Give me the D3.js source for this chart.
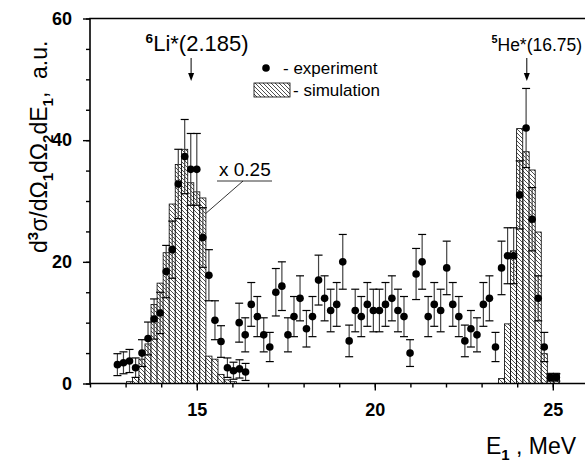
<!DOCTYPE html>
<html><head><meta charset="utf-8">
<script src="https://cdn.jsdelivr.net/npm/d3@7"></script>
<style>body{margin:0;overflow:hidden;background:#fff} svg{display:block}</style>
</head><body>
<script>
// ---- data ----
// left peak (6Li*), experiment scaled x0.25
const expLeftX = [12.77,12.94,13.11,13.28,13.46,13.63,13.80,13.97,14.14,14.31,14.48,14.66,14.83,15.00,15.17,15.34,15.51,15.68,15.86,16.03,16.20,16.37];
const expLeftY = [3.1,3.4,3.7,2.6,5.0,7.4,10.6,11.6,18.4,22.0,32.8,37.3,35.2,35.2,24.0,17.8,10.4,6.9,2.6,2.1,2.4,1.9];
const expLeftErr = [1.8,1.8,1.9,1.6,2.2,2.7,3.3,3.4,4.3,4.7,5.7,6.1,5.9,5.9,4.9,4.2,3.2,2.6,1.6,1.4,1.5,1.4];
// main experiment set
const expMainX = [16.19,16.36,16.53,16.70,16.88,17.05,17.22,17.39,17.56,17.73,17.90,18.08,18.25,18.42,18.59,18.76,18.93,19.10,19.28,19.45,19.62,19.79,19.96,20.13,20.30,20.48,20.65,20.82,20.99,21.16,21.33,21.50,21.67,21.85,22.02,22.19,22.36,22.53,22.70,22.87,23.05,23.22,23.39,23.56,23.73,23.90,24.07,24.25,24.42,24.59,24.76,24.93,25.10];
const expMainY = [10,8,13,11,8,6,15,16,8,11,14,9,11,17,14,12,13,20,7,12,11,13,12,12,13,14,12,11,5,18,20,11,13,12,19,13,11,7,9,8,13,14,6,19,21,21,31,42,27,14,6,1,1];
const expMainErr = [3.2,2.8,3.6,3.3,2.8,2.4,3.9,4.0,2.8,3.3,3.7,3.0,3.3,4.1,3.7,3.5,3.6,4.5,2.6,3.5,3.3,3.6,3.5,3.5,3.6,3.7,3.5,3.3,2.2,4.2,4.5,3.3,3.6,3.5,4.4,3.6,3.3,2.6,3.0,2.8,3.6,3.7,2.4,4.4,4.6,4.6,5.6,6.5,5.2,3.7,2.4,0.6,0.6];
// simulation histograms
const simLeftX = [13.11,13.28,13.46,13.63,13.80,13.97,14.14,14.31,14.48,14.66,14.83,15.00,15.17,15.34,15.51,15.68,15.86,16.03];
const simLeftY = [0.3,1.0,4.0,6.5,13,16.5,21.5,29.5,36,38.5,33,31.5,30.5,4.5,4.0,1.5,0.6,0.3];
const simRightX = [23.56,23.73,23.90,24.07,24.25,24.42,24.59,24.76,24.93,25.10];
const simRightY = [0.8,9.8,21.8,41.9,38.1,35.1,24.9,4.9,1.7,1.7];
const binWidth = 0.1714;
const xMajorTicks = [15,20,25];
const xMinorTicks = [12,13,14,15,16,17,18,19,20,21,22,23,24,25,26];
const yMajorTicks = [0,20,40,60];
const yMinorTicks = [0,5,10,15,20,25,30,35,40,45,50,55,60];
const peaks = [{sup:"6", name:"Li*(2.185)", e:14.84, size:22, dx:6},{sup:"5", name:"He*(16.75)", e:24.27, size:17.5, dx:10}];

// ---- drawing ----
const W = 585, H = 463;
const FONT = "Liberation Sans, Arial, Helvetica, sans-serif";
const svg = d3.select("body").append("svg").attr("width", W).attr("height", H)
  .style("font-family", FONT);
const x = d3.scaleLinear().domain([12, 26]).range([90, 588.4]);
const y = d3.scaleLinear().domain([0, 60]).range([383.5, 18.5]);

const defs = svg.append("defs");
const pat = defs.append("pattern").attr("id", "hatch").attr("patternUnits", "userSpaceOnUse")
  .attr("width", 4).attr("height", 4);
pat.append("rect").attr("width", 4).attr("height", 4).attr("fill", "#fff");
pat.append("path").attr("d", "M-1,-1 L5,5 M3,-1 L5,1 M-1,3 L1,5")
  .attr("stroke", "#222").attr("stroke-width", 0.8);

function bars(xs, ys) {
  svg.append("g").selectAll("rect").data(xs.map((c, i) => ({c, v: ys[i]}))).join("rect")
    .attr("x", d => x(d.c - binWidth / 2))
    .attr("width", d => x(d.c + binWidth / 2) - x(d.c - binWidth / 2))
    .attr("y", d => y(d.v))
    .attr("height", d => y(0) - y(d.v))
    .attr("fill", "url(#hatch)").attr("stroke", "#000").attr("stroke-width", 0.8);
}
bars(simLeftX, simLeftY);
bars(simRightX, simRightY);

function points(xs, ys, es) {
  const data = xs.map((c, i) => ({c, v: ys[i], e: es[i]}));
  const g = svg.append("g");
  g.selectAll("line.v").data(data).join("line").attr("class", "v")
    .attr("x1", d => x(d.c)).attr("x2", d => x(d.c))
    .attr("y1", d => y(d.v - d.e)).attr("y2", d => y(d.v + d.e))
    .attr("stroke", "#444").attr("stroke-width", 1.2);
  ["lo", "hi"].forEach(k => {
    g.selectAll("line." + k).data(data).join("line").attr("class", k)
      .attr("x1", d => x(d.c) - 4).attr("x2", d => x(d.c) + 4)
      .attr("y1", d => y(k === "lo" ? d.v - d.e : d.v + d.e))
      .attr("y2", d => y(k === "lo" ? d.v - d.e : d.v + d.e))
      .attr("stroke", "#000").attr("stroke-width", 1.2);
  });
  g.selectAll("circle").data(data).join("circle")
    .attr("cx", d => x(d.c)).attr("cy", d => y(d.v)).attr("r", 3.8).attr("fill", "#000");
}
points(expLeftX, expLeftY, expLeftErr);
points(expMainX, expMainY, expMainErr);

// axes
const axG = svg.append("g");
axG.append("g").attr("transform", `translate(0,${y(0)})`)
  .call(d3.axisBottom(x).tickValues(xMinorTicks).tickSize(4).tickFormat(""))
  .call(g => g.select(".domain").remove());
axG.append("g").attr("transform", `translate(0,${y(0)})`)
  .call(d3.axisBottom(x).tickValues(xMajorTicks).tickSize(7).tickPadding(13).tickFormat(d3.format("d")))
  .call(g => g.select(".domain").remove());
axG.append("g").attr("transform", `translate(${x(12)},0)`)
  .call(d3.axisLeft(y).tickValues(yMinorTicks).tickSize(4).tickFormat(""))
  .call(g => g.select(".domain").remove());
axG.append("g").attr("transform", `translate(${x(12)},0)`)
  .call(d3.axisLeft(y).tickValues(yMajorTicks).tickSize(7).tickPadding(11).tickFormat(d3.format("d")))
  .call(g => g.select(".domain").remove());
axG.selectAll("line").attr("stroke", "#000").attr("stroke-width", 1.4);
axG.selectAll("text").attr("font-family", FONT).attr("font-size", 18).attr("font-weight", "bold").attr("fill", "#000");
// frame (right side lies outside the window)
svg.append("path")
  .attr("d", `M${x(26)},${y(60)} L${x(12)},${y(60)} L${x(12)},${y(0)} L${x(26)},${y(0)}`)
  .attr("fill", "none").attr("stroke", "#000").attr("stroke-width", 1.6);

// peak labels and arrows
peaks.forEach(p => {
  const t = svg.append("text").attr("x", x(p.e) + p.dx).attr("y", 51)
    .attr("text-anchor", "middle").attr("font-size", p.size);
  t.append("tspan").text(p.sup).attr("font-size", p.size * 0.62).attr("font-weight", "bold").attr("dy", -8);
  t.append("tspan").text(p.name).attr("dy", 8);
  svg.append("line").attr("x1", x(p.e)).attr("x2", x(p.e)).attr("y1", 58).attr("y2", 76)
    .attr("stroke", "#000").attr("stroke-width", 1);
  svg.append("path").attr("d", `M${x(p.e) - 3},73 L${x(p.e) + 3},73 L${x(p.e)},81 Z`).attr("fill", "#000");
});

// legend
svg.append("circle").attr("cx", 266).attr("cy", 68).attr("r", 3.8).attr("fill", "#000");
svg.append("text").attr("x", 283).attr("y", 74).attr("font-size", 17).text("- experiment");
svg.append("rect").attr("x", 254).attr("y", 83).attr("width", 36).attr("height", 14)
  .attr("fill", "url(#hatch)").attr("stroke", "#000").attr("stroke-width", 0.8);
svg.append("text").attr("x", 293).attr("y", 96).attr("font-size", 17).text("- simulation");

// x 0.25 annotation
svg.append("text").attr("x", 219).attr("y", 176).attr("font-size", 19).text("x 0.25");
svg.append("line").attr("x1", 217).attr("x2", 272).attr("y1", 181).attr("y2", 181).attr("stroke", "#000").attr("stroke-width", 0.8);
svg.append("line").attr("x1", 243).attr("y1", 181).attr("x2", x(15.26)).attr("y2", y(28))
  .attr("stroke", "#000").attr("stroke-width", 0.8);

// axis titles
const yt = svg.append("text").attr("transform", `translate(47,253) rotate(-90)`).attr("font-size", 23);
yt.append("tspan").text("d");
yt.append("tspan").text("3").attr("font-size", 15).attr("font-weight", "bold").attr("dy", -9);
yt.append("tspan").text("σ/dΩ").attr("dy", 9);
yt.append("tspan").text("1").attr("font-size", 15).attr("font-weight", "bold").attr("dy", 6);
yt.append("tspan").text("dΩ").attr("dy", -6);
yt.append("tspan").text("2").attr("font-size", 15).attr("font-weight", "bold").attr("dy", 6);
yt.append("tspan").text("dE").attr("dy", -6);
yt.append("tspan").text("1").attr("font-size", 15).attr("font-weight", "bold").attr("dy", 6);
yt.append("tspan").text(",\u00a0\u00a0a.u.").attr("dy", -6);

const xt = svg.append("text").attr("x", 486).attr("y", 454).attr("font-size", 23);
xt.append("tspan").text("E");
xt.append("tspan").text("1").attr("font-size", 15).attr("font-weight", "bold").attr("dy", 6);
xt.append("tspan").text("\u00a0, MeV").attr("dy", -6);
</script>
</body></html>
